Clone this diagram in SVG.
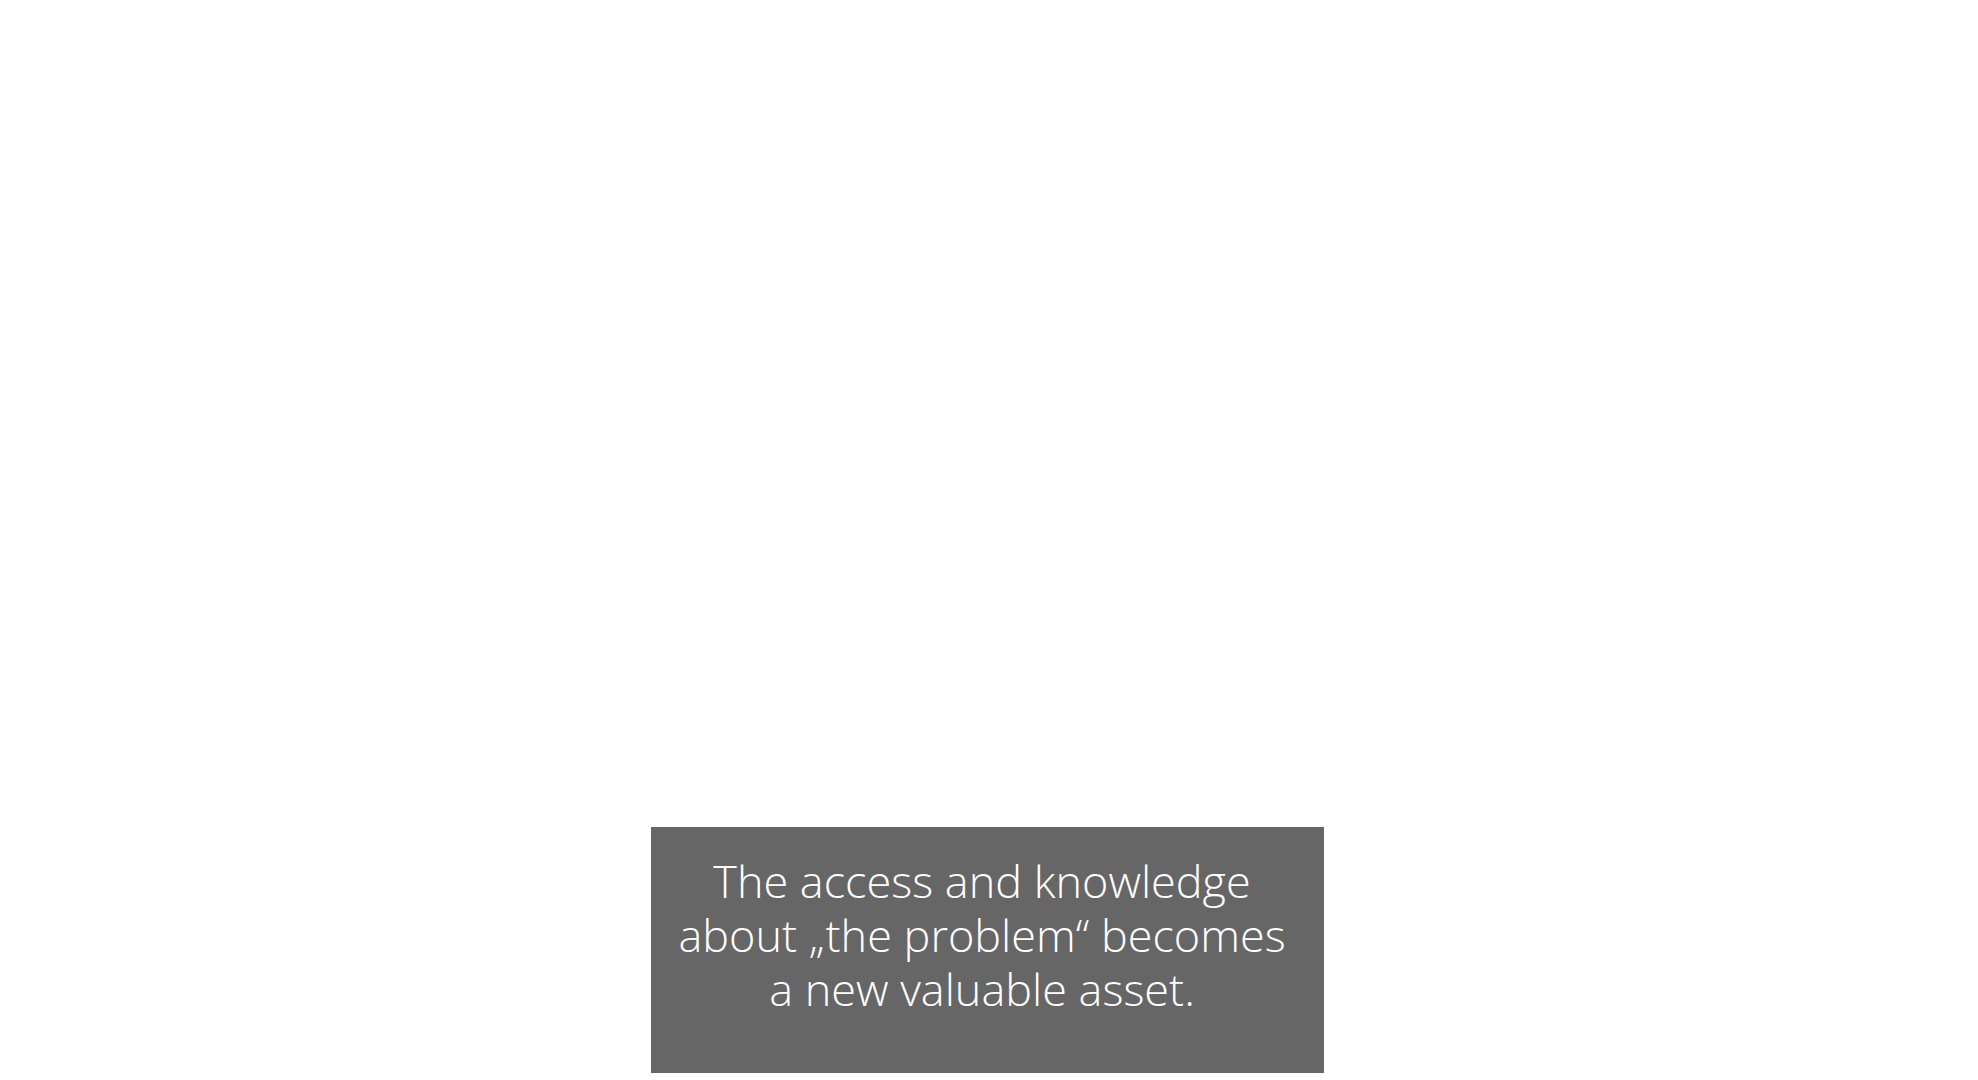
<svg xmlns="http://www.w3.org/2000/svg" width="1978" height="1080" viewBox="0 0 1978 1080">
<style>.t{font-family:"Open Sans","Noto Sans",sans-serif;font-weight:300;font-size:45px;fill:#ffffff;text-anchor:middle}</style>
<rect width="1978" height="1080" fill="#ffffff"/>
<g id="note">
<rect x="651" y="827" width="673" height="246" fill="#666666"/>
<text class="t" x="982" y="898">The access and knowledge</text>
<text class="t" x="982" y="952">about „the problem“ becomes</text>
<text class="t" x="982" y="1006">a new valuable asset.</text>
</g>
</svg>
